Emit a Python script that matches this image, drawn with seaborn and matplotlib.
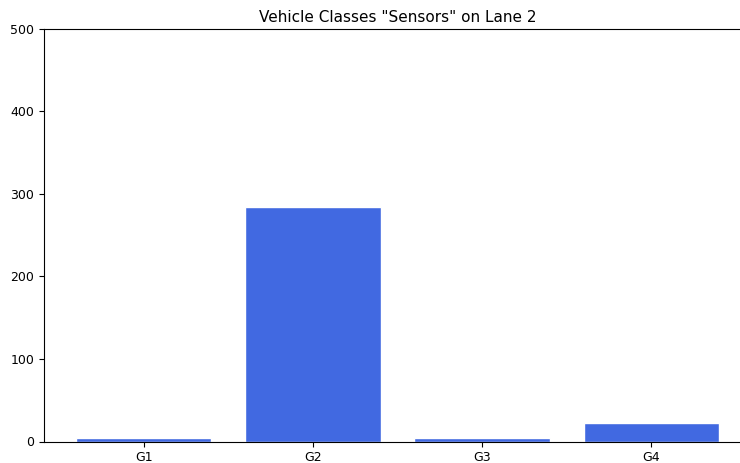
import matplotlib
matplotlib.use("Agg")
import matplotlib.pyplot as plt
import seaborn as sns
import pandas as pd

# Vehicle class counts on lane 2
classes = ["G1", "G2", "G3", "G4"]
counts = [4, 284, 4, 22]
title = 'Vehicle Classes "Sensors" on Lane 2'

sns.set_style("ticks", {"text.color": "black", "xtick.color": "black",
                        "ytick.color": "black", "axes.edgecolor": "black"})
plt.rcParams["font.family"] = ["DejaVu Sans"]

df = pd.DataFrame({"cls": classes, "count": counts})

fig = plt.figure(figsize=(7.4, 4.63), dpi=100)
ax = fig.add_axes([44 / 740, 1 - 441.5 / 463, (751 - 44) / 740, (441.5 - 28.7) / 463])

sns.barplot(data=df, x="cls", y="count", color="#4169E1", saturation=1,
            width=0.8, ax=ax)

ax.set_xlim(-0.59, 3.59)
ax.set_ylim(0, 500)
ax.set_yticks([0, 100, 200, 300, 400, 500])
ax.set_xlabel("")
ax.set_ylabel("")
ax.set_title(title, fontsize=11, pad=5, color="black")
ax.tick_params(labelsize=9, length=3.5, width=0.8, colors="black")
for s in ["left", "bottom", "top", "right"]:
    ax.spines[s].set_linewidth(0.8)
    ax.spines[s].set_color("black")
ax.spines["right"].set_visible(False)

fig.savefig("out.png", dpi=100)
